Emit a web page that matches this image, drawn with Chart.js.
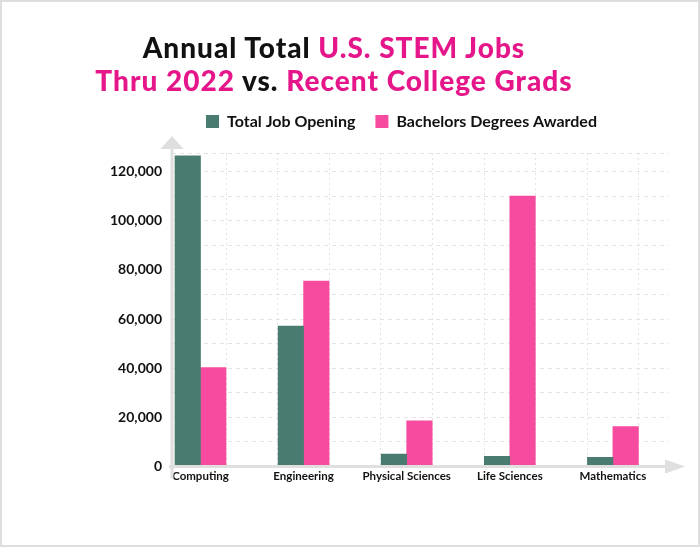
<!DOCTYPE html>
<html><head><meta charset="utf-8">
<script src="https://cdn.jsdelivr.net/npm/chart.js@4/dist/chart.umd.min.js"></script>
<style>
html,body{margin:0;padding:0;background:#fff;}
#wrap{position:relative;width:700px;height:547px;overflow:hidden;}
#c{position:absolute;left:0;top:0;}
#frame{position:absolute;left:0;top:0;width:700px;height:547px;box-sizing:border-box;border:2px solid #dedede;pointer-events:none;}
#title{position:absolute;left:0;top:31px;width:668px;text-align:center;font-family:Lato,"Open Sans",sans-serif;font-weight:900;font-size:28px;line-height:33px;letter-spacing:1px;color:#111;white-space:nowrap;}
.pk{color:#e5168a;}
</style></head><body>
<div id="wrap">
<canvas id="c" width="700" height="547"></canvas>
<div id="title"></div>
<div id="frame"></div>
</div>
<script>
// ---- data ----
const titleLine1 = [["Annual Total ", false], ["U.S. STEM Jobs", true]];
const titleLine2 = [["Thru 2022", true], [" vs. ", false], ["Recent College Grads", true]];
const categories = ["Computing", "Engineering", "Physical Sciences", "Life Sciences", "Mathematics"];
const seriesNames = ["Total Job Opening", "Bachelors Degrees Awarded"];
const jobOpenings = [126400, 57200, 5100, 4100, 3700];
const degreesAwarded = [40300, 75500, 18600, 110100, 16200];
const yGridStep = 10000;
const yLabelStep = 20000;
const yMax = 127600;

// ---- title (real text) ----
const titleEl = document.getElementById('title');
[titleLine1, titleLine2].forEach((line, li) => {
  line.forEach(([txt, pink]) => {
    const s = document.createElement('span');
    s.textContent = txt;
    if (pink) s.className = 'pk';
    titleEl.appendChild(s);
  });
  if (li === 0) titleEl.appendChild(document.createElement('br'));
});

const TEAL = '#4a7b71';
const PINK = '#f74b9f';
const GRID = '#e3e3e3';
const AXIS = '#dfdfdf';

const axisArrows = {
  id: 'axisArrows',
  afterDatasetsDraw(chart) {
    const {ctx, chartArea: a} = chart;
    const y0 = chart.scales.y.getPixelForValue(0);
    ctx.save();
    ctx.strokeStyle = AXIS; ctx.fillStyle = AXIS; ctx.lineWidth = 3;
    ctx.beginPath(); ctx.moveTo(a.left, a.top - 4); ctx.lineTo(a.left, y0 + 12); ctx.stroke();
    ctx.beginPath(); ctx.moveTo(a.left - 3, y0); ctx.lineTo(a.right - 4, y0); ctx.stroke();
    ctx.beginPath(); ctx.moveTo(a.left, a.top - 17); ctx.lineTo(a.left + 11.5, a.top - 4); ctx.lineTo(a.left - 11.5, a.top - 4); ctx.closePath(); ctx.fill();
    ctx.beginPath(); ctx.moveTo(a.right + 16, y0); ctx.lineTo(a.right - 4, y0 - 7); ctx.lineTo(a.right - 4, y0 + 7); ctx.closePath(); ctx.fill();
    ctx.restore();
  }
};

const legendShift = {
  id: 'legendShift',
  afterLayout(chart) {
    const l = chart.legend;
    const dx = 17, dy = -13.5;
    l.left += dx; l.right += dx; l.top += dy; l.bottom += dy;
  }
};

const toPoints = arr => arr.map((v, i) => ({x: i, y: v}));

new Chart(document.getElementById('c'), {
  type: 'bar',
  data: {
    datasets: [
      {label: seriesNames[0], data: toPoints(jobOpenings), backgroundColor: TEAL, borderWidth: 0, barThickness: 25.5},
      {label: seriesNames[1], data: toPoints(degreesAwarded), backgroundColor: PINK, borderWidth: 0, barThickness: 25.5}
    ]
  },
  options: {
    responsive: false,
    devicePixelRatio: 1,
    animation: false,
    layout: {padding: {left: 100, right: 31, top: 107, bottom: 60.7}},
    plugins: {
      tooltip: {enabled: false},
      legend: {
        position: 'top',
        labels: {
          boxWidth: 13, boxHeight: 13, padding: 20, color: '#111',
          font: {family: 'Lato', weight: 'bold', size: 16}
        }
      }
    },
    scales: {
      x: {
        type: 'linear',
        offset: false,
        min: -0.2764, max: 4.544,
        afterBuildTicks: (scale) => {
          const vals = [];
          categories.forEach((_, i) => {
            vals.push(i, i + 0.25);
            if (i + 0.75 < scale.max) vals.push(i + 0.75);
          });
          scale.ticks = vals.sort((a, b) => a - b).map(v => ({value: v}));
        },
        grid: {
          offset: false,
          drawTicks: false,
          color: (c) => (c.tick && Number.isInteger(c.tick.value)) ? 'rgba(0,0,0,0)' : GRID,
          lineWidth: 1
        },
        border: {display: false, dash: [2, 3]},
        ticks: {
          autoSkip: false, maxRotation: 0, padding: 3, color: '#111',
          font: {family: 'Lato', weight: 'bold', size: 11.5},
          callback: (v) => Number.isInteger(v) ? categories[v] : ''
        }
      },
      y: {
        min: 0, max: yMax,
        afterFit: (s) => { s.width = 72; },
        afterBuildTicks: (scale) => {
          const t = [];
          for (let v = 0; v <= yMax; v += yGridStep) t.push({value: v});
          t.push({value: yMax});
          scale.ticks = t;
        },
        grid: {drawTicks: false, color: GRID, lineWidth: 1},
        border: {display: false, dash: [4, 4]},
        ticks: {
          padding: 10, color: '#111',
          font: {family: 'Lato', weight: 'bold', size: 14},
          callback: (v) => (v % yLabelStep === 0) ? v.toLocaleString('en-US') : ''
        }
      }
    }
  },
  plugins: [axisArrows, legendShift]
});
</script>
</body></html>
